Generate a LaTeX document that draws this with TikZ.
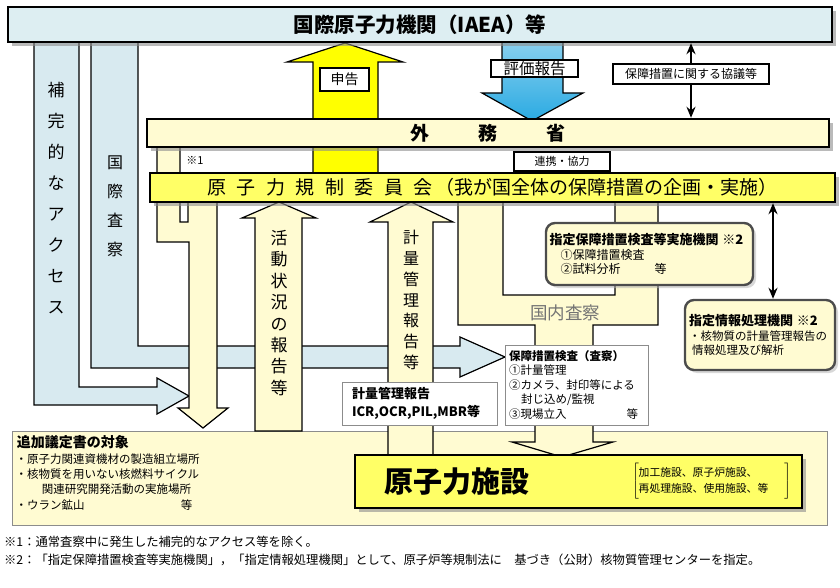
\documentclass[tikz,border=0pt]{standalone}
\usepackage{fontspec}
\setmainfont{Noto Sans CJK JP}
\usetikzlibrary{shapes.geometric, arrows, arrows.meta, positioning, shadows}

\definecolor{iaeablue}{HTML}{DDEEF2}
\definecolor{bandblue}{HTML}{D8EAF0}
\definecolor{paleyellow}{HTML}{FFFBD2}
\definecolor{boxyellow}{HTML}{FFFF66}
\definecolor{arrowyellow}{HTML}{FFFF00}
\definecolor{skyblue}{HTML}{2AAAE2}

\tikzstyle{bigbox} = [rectangle, draw=black, line width=2.4pt, inner sep=0pt, drop shadow={shadow xshift=4pt, shadow yshift=-4pt, fill=black!45, opacity=0.6}]
\tikzstyle{tagbox} = [rectangle, draw=black, line width=1.2pt, fill=white, inner sep=0pt]
\tikzstyle{infobox} = [rectangle, draw=black!45, line width=0.9pt, fill=white, align=left, inner sep=0pt]
\tikzstyle{agency} = [rectangle, rounded corners=9pt, draw=black!70, line width=2.4pt, fill=paleyellow, align=left, inner sep=0pt, drop shadow={shadow xshift=3pt, shadow yshift=-3pt, fill=black!30, opacity=0.5}]
\tikzstyle{vtext} = [align=center, inner sep=0pt]
\tikzstyle{fatband} = [draw=black, line width=1.2pt, line join=miter]
\tikzstyle{arrow} = [line width=2pt, ->, >={Stealth[length=11pt, width=9pt]}]

\begin{document}
\begin{tikzpicture}[x=1pt, y=-1pt]
    \useasboundingbox (0,0) rectangle (840,588);

    \node (tsuikabox) [rectangle, draw=black!45, line width=0.9pt, fill=paleyellow, minimum width=815pt, minimum height=94pt] at (419.5,478) {};
    \node (tsuika) [anchor=north west, inner sep=0pt, font=\bfseries\fontsize{14}{16}\selectfont] at ([shift={(5,5)}]tsuikabox.north west) {追加議定書の対象};
    \node (taisho) [below right=4pt and -1pt of tsuika.south west, align=left, inner sep=0pt, font=\fontsize{11.5}{15.3}\selectfont] {・原子力関連資機材の製造組立場所\\・核物質を用いない核燃料サイクル\\\hspace{26pt}関連研究開発活動の実施場所\\・ウラン鉱山\hspace{96pt}等};

    \draw[fatband, fill=bandblue] (34,40) -- (34,405) -- (157,405) -- (157,414) -- (189,396) -- (157,378) -- (157,387) -- (79,387) -- (79,40) -- cycle;
    \draw[fatband, fill=bandblue] (91,40) -- (91,368) -- (460,368) -- (460,377) -- (505,357) -- (460,337) -- (460,346) -- (138,346) -- (138,40) -- cycle;
    \draw[fatband, fill=paleyellow] (157,145) -- (157,242) -- (189,242) -- (189,408) -- (178,408) -- (203,428) -- (228,408) -- (217,408) -- (217,200) -- (188,200) -- (188,222) -- (180,222) -- (180,145) -- cycle;
    \draw[fatband, fill=arrowyellow] (313,175) -- (313,62) -- (287,62) -- (345,43) -- (403,62) -- (378,62) -- (378,175) -- cycle;
    \draw[fatband, top color=skyblue!55, bottom color=skyblue] (502,40) -- (502,93) -- (482,93) -- (532,121) -- (583,93) -- (563,93) -- (563,40) -- cycle;
    \draw[fatband, fill=paleyellow] (255,431) -- (255,218) -- (242,218) -- (279,202) -- (316,218) -- (302,218) -- (302,431) -- cycle;
    \draw[fatband, fill=paleyellow] (388,455) -- (388,222) -- (370,222) -- (411,202) -- (453,222) -- (433,222) -- (433,455) -- cycle;
    \draw[fatband, fill=paleyellow] (458,200) -- (458,325) -- (535,325) -- (535,442) -- (512,442) -- (562,457) -- (613,442) -- (593,442) -- (593,325) -- (658,325) -- (658,200) -- (615,200) -- (615,295) -- (503,295) -- (503,200) -- cycle;

    \node (iaea) [bigbox, fill=iaeablue, minimum width=824pt, minimum height=35pt, font=\bfseries\fontsize{20.5}{24}\selectfont] at (420,24.5) {国際原子力機関（IAEA）等};

    \node (gaimu) [bigbox, fill=paleyellow, minimum width=682pt, minimum height=28pt, font=\bfseries\fontsize{19}{22}\selectfont] at (488,133) {外\hspace{49pt}務\hspace{49pt}省};

    \node (kisei) [bigbox, fill=boxyellow, minimum width=685pt, minimum height=29pt, font=\fontsize{19}{22}\selectfont] at (492.5,187.5) {原\hspace{10.5pt}子\hspace{10.5pt}力\hspace{10.5pt}規\hspace{10.5pt}制\hspace{10.5pt}委\hspace{10.5pt}員\hspace{10.5pt}会\hspace{3pt}（我が国全体の保障措置の企画・実施）};

    \node (shinkoku) [tagbox, minimum width=49pt, minimum height=23pt, font=\fontsize{14}{16}\selectfont] at (344.5,79.5) {申告};
    \node (hyoka) [tagbox, minimum width=87pt, minimum height=17pt, font=\fontsize{15.5}{16}\selectfont] at (534.5,68.5) {評価報告};
    \node (kyogi) [tagbox, minimum width=156pt, minimum height=20pt, font=\fontsize{12}{14}\selectfont] at (691,74) {保障措置に関する協議等};
    \node (renkei) [tagbox, minimum width=96pt, minimum height=19pt, font=\fontsize{11}{13}\selectfont] at (562,161.5) {連携・協力};
    \node (chuui) [inner sep=0pt, font=\fontsize{11}{13}\selectfont] at (195,160) {※1};

    \draw[arrow] (kyogi.north) -- (kyogi.north |- iaea.south);
    \draw[arrow] (kyogi.south) -- (kyogi.south |- gaimu.north);

    \node (hokan) [vtext, font=\fontsize{17}{31}\selectfont] at (56,198.5) {補\\完\\的\\な\\ア\\ク\\セ\\ス};
    \node (kokusai) [vtext, font=\fontsize{16}{29}\selectfont] at (115,206.5) {国\\際\\査\\察};
    \node (katsudo) [vtext, font=\fontsize{17}{21.4}\selectfont] at (279,313) {活\\動\\状\\況\\の\\報\\告\\等};
    \node (keiryohokoku) [vtext, font=\fontsize{16}{20.7}\selectfont] at (411,300) {計\\量\\管\\理\\報\\告\\等};
    \node (kokunai) [inner sep=0pt, text=black!55, font=\fontsize{17.5}{20}\selectfont] at (565,313) {国内査察};

    \node (jisshi) [agency, minimum width=207pt, minimum height=62pt, text width=200pt, font=\fontsize{12}{14.5}\selectfont] at (649.5,254) {{\bfseries\fontsize{13}{14.5}\selectfont 指定保障措置検査等実施機関 ※2}\\\hspace{11pt}①保障措置検査\\\hspace{11pt}②試料分析\hspace{34pt}等};
    \node (joho) [agency, minimum width=150pt, minimum height=70pt, text width=142pt, font=\fontsize{11.5}{14.5}\selectfont] at (760,335) {{\bfseries\fontsize{13}{14.5}\selectfont 指定情報処理機関 ※2}\\・核物質の計量管理報告の\\\hspace{3pt}情報処理及び解析};
    \coordinate (jline) at ([xshift=13pt]joho.north);
    \draw[arrow, <->] (jline) -- (jline |- kisei.south);

    \node (kensa) [infobox, minimum width=143pt, minimum height=80pt, text width=135pt, font=\fontsize{11.5}{14.5}\selectfont] at (576.5,385) {{\bfseries 保障措置検査（査察）}\\①計量管理\\②カメラ、封印等による\\\hspace{12pt}封じ込め/監視\\③現場立入\hspace{60pt}等};
    \node (keiryo) [infobox, minimum width=155pt, minimum height=43pt, text width=135pt, font=\bfseries\fontsize{13}{18}\selectfont] at (419.5,403.5) {計量管理報告\\ICR,OCR,PIL,MBR等};

    \node (shisetsu) [bigbox, fill=boxyellow, minimum width=447pt, minimum height=53pt] at (578.5,481.5) {};
    \node (shisetsuname) [right=30pt of shisetsu.west, inner sep=0pt, font=\bfseries\fontsize{29}{32}\selectfont] {原子力施設};
    \node (shurui) [left=12pt of shisetsu.east, inner sep=0pt, font=\fontsize{10.8}{15.5}\selectfont] {$\left[\rule[-16pt]{0pt}{37pt}\begin{tabular}{@{}l@{\hspace{16pt}}}加工施設、原子炉施設、\\再処理施設、使用施設、等\end{tabular}\right]$};

    \node (note1) [anchor=west, inner sep=0pt, font=\fontsize{12.3}{14}\selectfont] at (4,542) {※1：通常査察中に発生した補完的なアクセス等を除く。};
    \node (note2) [below right=6pt and 0pt of note1.south west, inner sep=0pt, font=\fontsize{12.3}{14}\selectfont] {※2：「指定保障措置検査等実施機関」，「指定情報処理機関」として、原子炉等規制法に　基づき（公財）核物質管理センターを指定。};

\end{tikzpicture}
\end{document}
